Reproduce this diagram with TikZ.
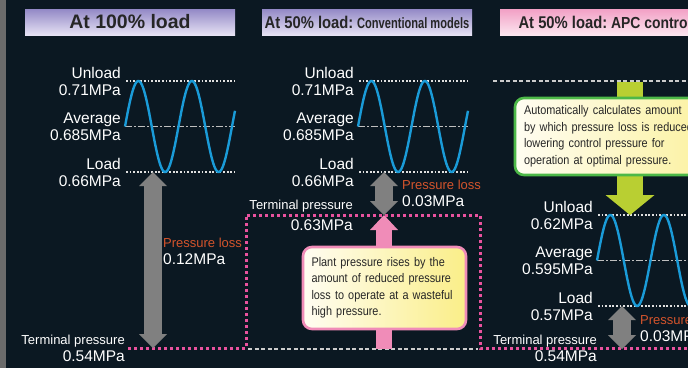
\documentclass[tikz,border=0pt]{standalone}
\usepackage{fontspec}
\setmainfont{Liberation Sans}
\newfontfamily\narrowfont{Liberation Sans}[FakeStretch=0.87]
\newfontfamily\condfont{Liberation Sans}[FakeStretch=0.74]
\usetikzlibrary{arrows.meta}
\definecolor{bgnavy}{HTML}{0B1822}
\definecolor{bargray}{HTML}{6B6B6B}
\definecolor{purpletop}{HTML}{9389C6}
\definecolor{purplebot}{HTML}{E6E2F4}
\definecolor{pinktop}{HTML}{F2A0C5}
\definecolor{pinkbot}{HTML}{FCE6F0}
\definecolor{waveblue}{HTML}{1A9BD8}
\definecolor{lossorange}{HTML}{D4542C}
\definecolor{arrowgray}{HTML}{808080}
\definecolor{pinkarrow}{HTML}{F08CB8}
\definecolor{pinkdot}{HTML}{E9529E}
\definecolor{limegreen}{HTML}{B9CF32}
\definecolor{greenborder}{HTML}{4DB848}
\definecolor{noteleft}{HTML}{FFFDF2}
\definecolor{noteright}{HTML}{FAEE88}
\begin{document}
\begin{tikzpicture}[x=1pt,y=-1pt,line cap=butt,line join=miter]
\tikzset{
  level/.style={draw=white!88!black,line width=1.9pt,dash pattern=on 1.8pt off 1.8pt},
  mean/.style={draw=white!75!black,line width=1.5pt,dash pattern=on 7pt off 2pt on 2pt off 2pt},
  wave/.style={draw=waveblue,line width=2.4pt,line join=round},
  lbl/.style={text=white,font=\fontsize{15.5}{17}\selectfont,align=right,anchor=east,inner sep=0pt},
  loss/.style={text=white,font=\fontsize{15.5}{17}\selectfont,align=left,anchor=west,inner sep=0pt},
  headbox/.style={minimum width=210pt,minimum height=26pt,inner sep=0pt,text=black!85},
  note/.style={rounded corners=9pt,line width=2.6pt,left color=noteleft,right color=noteright,
    text=black!85,font=\narrowfont\fontsize{12.5}{16.5}\selectfont,align=left,inner xsep=9pt,inner ysep=0pt},
  gap/.style={draw=arrowgray,line width=18pt,
    {Triangle[width=28pt,length=14pt,line width=0pt]}-{Triangle[width=28pt,length=14pt,line width=0pt]}},
  pinkdots/.style={draw=pinkdot,line width=3pt,dash pattern=on 3pt off 3pt},
  whitedash/.style={draw=white!80!black,line width=1.5pt,dash pattern=on 4pt off 2.5pt}
}
\useasboundingbox (0,0) rectangle (688,368);
\clip (0,0) rectangle (688,368);
\fill[bgnavy] (0,0) rectangle (688,368);
\fill[bargray] (0,0) rectangle (6,368);

% headers
\node[headbox,top color=purpletop,bottom color=purplebot] (full) at (130,22)
  {\bfseries\fontsize{19.5}{20}\selectfont At 100\% load};
\node[headbox,top color=purpletop,bottom color=purplebot] (conv) at (367,22)
  {\bfseries{\narrowfont\fontsize{17}{20}\selectfont At 50\% load:} {\condfont\fontsize{15}{20}\selectfont Conventional models}};
\node[headbox,top color=pinktop,bottom color=pinkbot] (apc) at (605,22)
  {\bfseries{\narrowfont\fontsize{17}{20}\selectfont At 50\% load:} {\narrowfont\fontsize{16}{20}\selectfont APC control}};

% pressure levels and waves
\foreach \p/\wx/\ty/\vu/\va/\vl/\xe in {a/125/81/0.71/0.685/0.66/235,
    b/358/81/0.71/0.685/0.66/468, c/597/215/0.62/0.595/0.57/700} {
  \pgfmathsetmacro\my{\ty+45.5}
  \pgfmathsetmacro\by{\ty+91}
  \draw[level] (\wx+1,\ty) -- (\xe,\ty);
  \draw[mean] (\wx,\my) -- (\xe,\my);
  \draw[level] (\wx+1,\by) -- (\xe,\by);
  \draw[wave] plot[domain=\wx:\xe,samples=150] (\x,{\my-45.5*sin((\x-\wx)*6.729)});
  \node[lbl] (unload\p) at (\wx-4,\ty) {Unload\\\vu MPa};
  \node[lbl] (average\p) at (\wx-4,\my) {Average\\\va MPa};
  \node[lbl] (load\p) at (\wx-4,\by) {Load\\\vl MPa};
}

% terminal pressure
\draw[pinkdots] (128,348) -- (246,348) -- (246,215) -- (480,215) -- (480,348) -- (700,348);
\draw[whitedash] (248,349) -- (478,349);
\draw[whitedash] (493,81) -- (700,81);
\node[lbl] (terma) at (125,348) {{\fontsize{13}{15}\selectfont Terminal pressure}\\0.54MPa};
\node[lbl] (termb) at (353,215.5) {{\fontsize{13}{15}\selectfont Terminal pressure}\\[4pt]0.63MPa};
\node[lbl] (termc) at (597,348) {{\fontsize{13}{15}\selectfont Terminal pressure}\\0.54MPa};

% pressure loss
\coordinate (topa) at (153,172);
\coordinate (bota) at (153,348);
\coordinate (topb) at (384,172);
\coordinate (botb) at (384,215);
\coordinate (baseb) at (384,349);
\coordinate (topc) at (622,306);
\coordinate (botc) at (622,349);
\coordinate (starta) at (630,82);
\coordinate (endc) at (630,215);
\draw[gap] (topa) -- (bota);
\draw[gap] (topb) -- (botb);
\draw[gap] (topc) -- (botc);
\node[loss] (lossa) at (163,251) {\textcolor{lossorange}{\fontsize{13}{15}\selectfont Pressure loss}\\0.12MPa};
\node[loss] (lossb) at (402,193) {\textcolor{lossorange}{\fontsize{13}{15}\selectfont Pressure loss}\\0.03MPa};
\node[loss] (lossc) at (640,328) {\textcolor{lossorange}{\fontsize{13}{15}\selectfont Pressure loss}\\0.03MPa};

% rise and fall
\draw[draw=pinkarrow,line width=16pt,-{Triangle[width=28pt,length=15pt,line width=0pt]}] (baseb) -- (botb);
\draw[draw=limegreen,line width=26pt,-{Triangle[width=49pt,length=20pt,line width=0pt]}] (starta) -- (endc);
\node[note,draw=pinkarrow,minimum width=163pt,minimum height=82pt,text width=156pt,inner xsep=3.5pt] (plant) at (384.5,288)
  {\hspace*{5pt}Plant pressure rises by the\\\hspace*{5pt}amount of reduced pressure\\\hspace*{5pt}loss to operate at a wasteful\\\hspace*{5pt}high pressure.};
\node[note,draw=greenborder,minimum width=250pt,minimum height=77pt,text width=232pt] (auto) at (640,136.5)
  {Automatically calculates amount\\by which pressure loss is reduced\\lowering control pressure for\\operation at optimal pressure.};
\end{tikzpicture}
\end{document}
